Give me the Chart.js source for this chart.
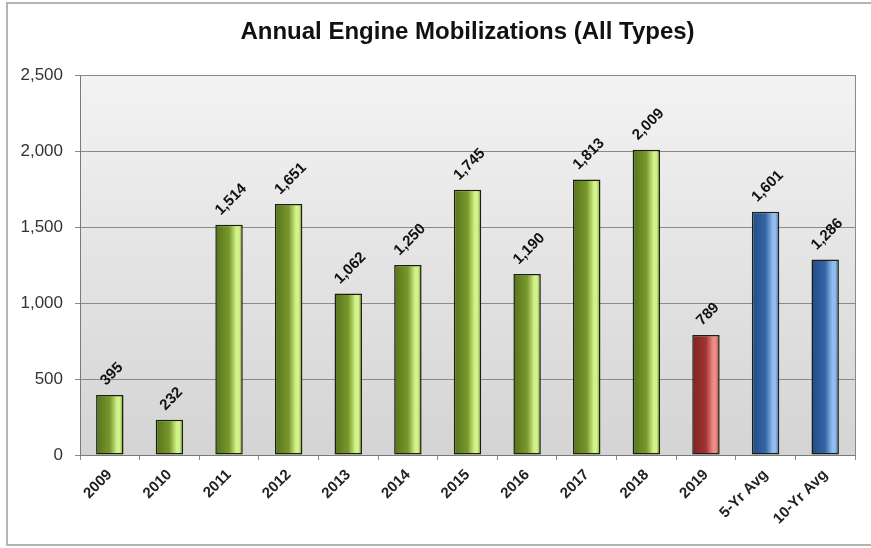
<!DOCTYPE html>
<html>
<head>
<meta charset="utf-8">
<script src="https://cdn.jsdelivr.net/npm/chart.js@4.4.1/dist/chart.umd.min.js"></script>
<style>
  html, body { margin: 0; padding: 0; background: #fff; }
  #frame {
    position: absolute; left: 6px; top: 2px; width: 880px; height: 540px;
    border: 2px solid #b4b4b4; border-right: none;
  }
  #wrap { position: absolute; left: 0; top: 0; width: 871px; height: 548px; }
</style>
</head>
<body>
<div id="frame"></div>
<div id="wrap"><canvas id="chart" width="871" height="548"></canvas></div>
<script>
/* chart data */
const categories = ["2009", "2010", "2011", "2012", "2013", "2014", "2015", "2016", "2017", "2018", "2019", "5-Yr Avg", "10-Yr Avg"];
const mobilizations = [395, 232, 1514, 1651, 1062, 1250, 1745, 1190, 1813, 2009, 789, 1601, 1286];
const barKinds = ["year", "year", "year", "year", "year", "year", "year", "year", "year", "year", "current", "avg", "avg"];
const yTicks = [0, 500, 1000, 1500, 2000, 2500];

const titleText = "Annual Engine Mobilizations (All Types)";
const BAR_PCT = 0.46;
const FONT = "'Liberation Sans', Arial, sans-serif";

/* colour stops for the cylinder look: [dark edge, body, highlight, right edge] */
const palettes = {
    year:    ["#56721a", "#78982c", "#d2f28a", "#66851f"],
    current: ["#842222", "#a03434", "#f08c86", "#902c2c"],
    avg:     ["#214b88", "#3565a6", "#90bdee", "#2a5898"]
};

const fmt = v => v.toLocaleString("en-US");

function barGradient(context) {
    const chart = context.chart;
    const xs = chart.scales.x;
    const pal = palettes[barKinds[context.dataIndex] || "year"];
    if (!xs || context.dataIndex === undefined) return pal[1];
    const cx = xs.getPixelForValue(context.dataIndex);
    const half = (xs.width / categories.length) * BAR_PCT / 2;
    /* scales are not laid out on the very first resolve */
    if (!isFinite(cx) || !isFinite(half) || half <= 0) return pal[1];
    const g = chart.ctx.createLinearGradient(cx - half, 0, cx + half, 0);
    g.addColorStop(0, pal[0]);
    g.addColorStop(0.5, pal[1]);
    g.addColorStop(0.76, pal[2]);
    g.addColorStop(0.87, pal[2]);
    g.addColorStop(1, pal[3]);
    return g;
}

/* gray gradient behind the plot */
const plotBackground = {
    id: "plotBackground",
    beforeDraw(chart) {
        const { ctx, chartArea: a } = chart;
        ctx.save();
        const g = ctx.createLinearGradient(0, a.top, 0, a.bottom);
        g.addColorStop(0, "#f3f3f3");
        g.addColorStop(1, "#d4d4d4");
        ctx.fillStyle = g;
        ctx.fillRect(a.left, a.top, a.right - a.left, a.bottom - a.top);
        ctx.strokeStyle = "#8a8a8a";
        ctx.lineWidth = 1;
        ctx.beginPath();
        ctx.moveTo(a.right + 0.5, a.top);
        ctx.lineTo(a.right + 0.5, a.bottom);
        ctx.stroke();
        ctx.restore();
    }
};

/* title centred over the plot area */
const plotTitle = {
    id: "plotTitle",
    afterDraw(chart) {
        const { ctx, chartArea: a } = chart;
        ctx.save();
        ctx.font = "bold 24px " + FONT;
        ctx.fillStyle = "#111";
        ctx.textAlign = "center";
        ctx.textBaseline = "middle";
        ctx.fillText(titleText, (a.left + a.right) / 2, 32);
        ctx.restore();
    }
};

/* rotated value labels, centred over each bar */
const valueLabels = {
    id: "valueLabels",
    afterDatasetsDraw(chart) {
        const { ctx } = chart;
        const meta = chart.getDatasetMeta(0);
        ctx.save();
        ctx.font = "bold 15px " + FONT;
        ctx.fillStyle = "#111";
        ctx.textAlign = "center";
        ctx.textBaseline = "middle";
        meta.data.forEach((bar, i) => {
            const txt = fmt(mobilizations[i]);
            const half = ctx.measureText(txt).width / 2 * Math.SQRT1_2;
            ctx.save();
            ctx.translate(bar.x + 2, bar.y - 12 - half);
            ctx.rotate(-Math.PI / 4);
            ctx.fillText(txt, 0, 0);
            ctx.restore();
        });
        ctx.restore();
    }
};

new Chart(document.getElementById("chart"), {
    type: "bar",
    data: {
        labels: categories,
        datasets: [{
            data: mobilizations,
            backgroundColor: barGradient,
            borderColor: "#1a1f0e",
            borderWidth: 1.5,
            borderSkipped: false,
            barPercentage: BAR_PCT,
            categoryPercentage: 1
        }]
    },
    options: {
        responsive: false,
        animation: false,
        devicePixelRatio: 1,
        layout: { padding: { top: 75, right: 16, left: 0, bottom: 0 } },
        plugins: {
            legend: { display: false },
            title: { display: false },
            tooltip: { enabled: false }
        },
        scales: {
            x: {
                grid: { offset: true, drawOnChartArea: false, tickLength: 5, color: "#8a8a8a" },
                border: { color: "#7a7a7a" },
                ticks: {
                    minRotation: 45, maxRotation: 45,
                    color: "#222",
                    font: { family: FONT, size: 15, weight: "bold" },
                    padding: 6
                },
                afterFit(scale) { scale.height = 93; }
            },
            y: {
                min: 0, max: 2500,
                afterBuildTicks(scale) { scale.ticks = yTicks.map(v => ({ value: v })); },
                grid: { color: "#8a8a8a", tickLength: 5 },
                border: { color: "#7a7a7a" },
                ticks: {
                    color: "#333",
                    font: { family: FONT, size: 17 },
                    padding: 12,
                    callback: v => fmt(v)
                },
                afterFit(scale) { scale.width = 80; }
            }
        }
    },
    plugins: [plotBackground, plotTitle, valueLabels]
});
</script>
</body>
</html>
